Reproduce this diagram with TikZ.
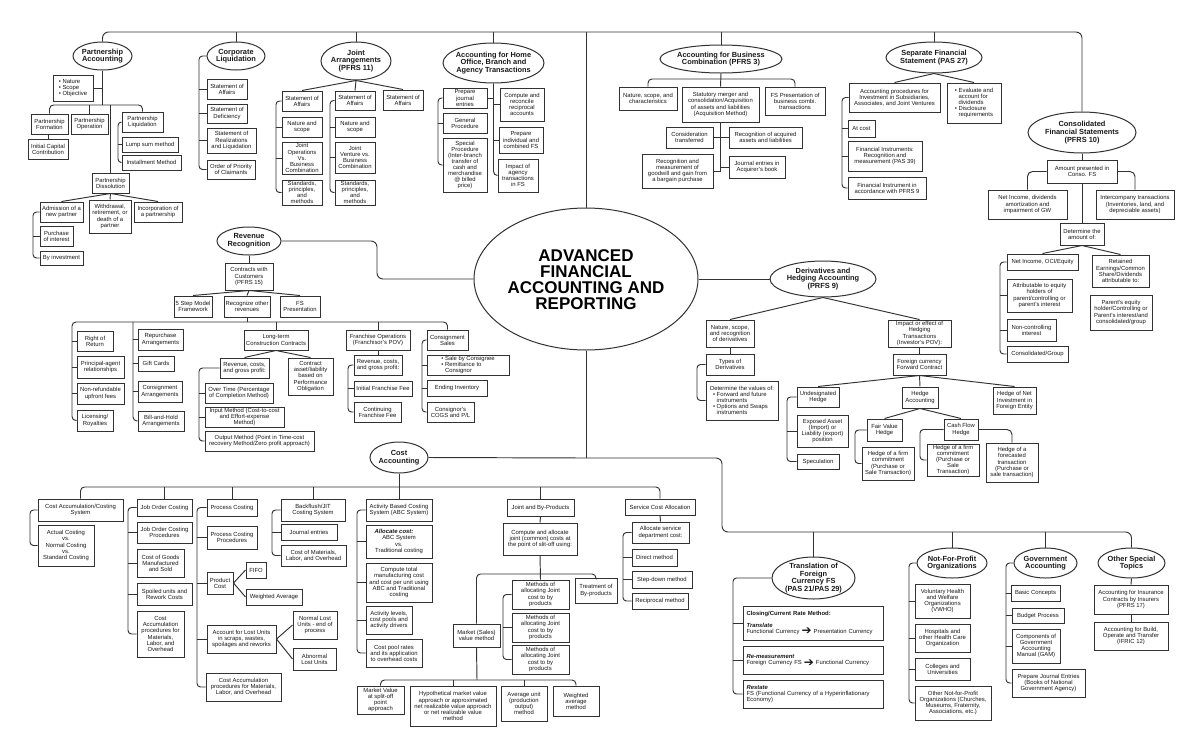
\documentclass[tikz,border=0pt]{standalone}
\usepackage{fontspec}
\setmainfont{Liberation Sans}
\newfontfamily\dejavu{DejaVu Sans}
\usetikzlibrary{shapes.geometric}
\definecolor{lc}{RGB}{50,50,50}
\newcommand\FS{\fontsize{5.9}{6.1}\selectfont}
\newcommand\FE{\fontsize{7.4}{7.6}\selectfont\bfseries}
\newcommand\ARR{\raisebox{-1.6pt}[0pt][0pt]{\dejavu\fontsize{12}{12}\selectfont ➔}}
\newcommand\BI{\hphantom{•~}}
\tikzset{
 ln/.style={draw=lc,line width=0.95pt},
 box/.style={draw=lc,line width=1pt,fill=white,inner sep=1pt,align=center,font=\FS,text=black!90},
 ell/.style={ellipse,draw=lc,line width=1pt,fill=white,inner sep=0pt},
 etxt/.style={font=\FE,align=center,inner sep=0pt,text=black!90},
}
\newcommand\BX[7][]{\node[box,minimum width={(#5)-(#3)},minimum height={(#6)-(#4)},#1] (#2) at ({((#3)+(#5))/2},{((#4)+(#6))/2}) {#7};}
\newcommand\EL[6]{\node[ell,minimum width={(#4)-(#2)},minimum height={(#5)-(#3)}] (#1) at ({((#2)+(#4))/2},{((#3)+(#5))/2}) {};\node[etxt] (#1t) at (#1.center) {#6};}
\newcommand\BRK[3]{\coordinate (bk) at (#1,0);\draw[ln,rounded corners=3.5] (#2.west) -- (#2.west -| bk) -- (#3.west -| bk) -- (#3.west);}
\newcommand\STUB[1]{\draw[ln] (#1.west) -- (#1.west -| bk);}
\begin{document}
\begin{tikzpicture}[x=1pt,y=-1pt]
\fill[white] (0,0) rectangle (1199,745);
\useasboundingbox (0,0) rectangle (1199,745);

% ---------- main
\node[ell,minimum width=224,minimum height=142] (main) at (586,279) {};
\node[font=\fontsize{17}{16}\selectfont\bfseries,align=center,inner sep=0pt] (maint) at (586,280) {ADVANCED\\FINANCIAL\\ACCOUNTING AND\\REPORTING};

% ---------- Partnership
\EL{pa}{73}{42}{132}{70}{Partnership\\Accounting}
\BX[align=left]{pnso}{53}{75}{93}{101}{• Nature\\• Scope\\• Objective}
\BX{pform}{31}{114}{68}{134}{Partnership\\Formation}
\BX{pinit}{28}{139}{68}{159}{Initial Capital\\Contribution}
\BX{poper}{71}{114}{108}{134}{Partnership\\Operation}
\BX{pliq}{122}{112}{163}{132}{Partnership\\Liquidation}
\BX{plump}{122}{137}{178}{152}{Lump sum method}
\BX{pinst}{122}{155}{181}{170}{Installment Method}
\BX{pdiss}{92}{173}{129}{193}{Partnership\\Dissolution}
\BX{padm}{40}{202}{83}{222}{Admission of a\\new partner}
\BX{pwith}{89}{200}{131}{233}{Withdrawal,\\retirement, or\\death of a\\partner}
\BX{pinc}{134}{202}{182}{222}{Incorporation of\\a partnership}
\BX{ppur}{40}{226}{73}{246}{Purchase\\of interest}
\BX{pinv}{40}{251}{83}{265}{By investment}

% ---------- Corporate Liquidation
\EL{cl}{207}{42}{265}{70}{Corporate\\Liquidation}
\BX{cl1}{207}{79}{247}{99}{Statement of\\Affairs}
\BX{cl2}{207}{104}{247}{123}{Statement of\\Deficiency}
\BX{cl3}{207}{128}{256}{153}{Statement of\\Realizations\\and Liquidation}
\BX{cl4}{207}{160}{255}{179}{Order of Priority\\of Claimants}

% ---------- Joint Arrangements
\EL{ja}{321}{42}{391}{80}{Joint\\Arrangements\\(PFRS 11)}
\BX{ja1}{282}{91}{322}{111}{Statement of\\Affairs}
\BX{ja2}{282}{117}{322}{137}{Nature and\\scope}
\BX{ja3}{282}{142}{322}{174}{Joint\\Operations\\Vs.\\Business\\Combination}
\BX{ja4}{282}{180}{322}{205}{Standards,\\principles,\\and\\methods}
\BX{jb1}{335}{91}{375}{110}{Statement of\\Affairs}
\BX{jb2}{335}{117}{375}{137}{Nature and\\scope}
\BX{jb3}{335}{142}{375}{173}{Joint\\Venture vs.\\Business\\Combination}
\BX{jb4}{335}{180}{375}{205}{Standards,\\principles,\\and\\methods}
\BX{jc}{383}{90}{423}{110}{Statement of\\Affairs}

% ---------- Home office
\EL{ho}{443}{43}{544}{83}{Accounting for Home\\Office, Branch and\\Agency Transactions}
\BX{ho1}{443}{88}{487}{108}{Prepare\\journal\\entries}
\BX{ho2}{443}{113}{487}{133}{General\\Procedure}
\BX{ho3}{443}{138}{487}{192}{Special\\Procedure\\(Inter-branch\\transfer of\\cash and\\merchandise\\@ billed\\price)}
\BX{hr1}{500}{88}{544}{121}{Compute and\\reconcile\\reciprocal\\accounts}
\BX{hr2}{499}{127}{543}{153}{Prepare\\individual and\\combined FS}
\BX{hr3}{498}{159}{538}{192}{Impact of\\agency\\transactions\\in FS}

% ---------- Business combination
\EL{abc}{660}{45}{782}{73}{Accounting for Business\\Combination (PFRS 3)}
\BX{ab1}{619}{87}{677}{110}{Nature, scope, and\\characteristics}
\BX{ab2}{682}{87}{759}{122}{Statutory merger and\\consolidation/Acquisition\\of assets and liabilities\\(Acquisition Method)}
\BX{ab3}{765}{87}{825}{115}{FS Presentation of\\business combi.\\transactions}
\BX{ab4}{666}{127}{713}{148}{Consideration\\transferred}
\BX{ab5}{729}{127}{802}{148}{Recognition of acquired\\assets and liabilities}
\BX{ab6}{642}{154}{713}{188}{Recognition and\\measurement of\\goodwill and gain from\\a bargain purchase}
\BX{ab7}{729}{156}{785}{178}{Journal entries in\\Acquirer's book}

% ---------- Separate FS
\EL{sfs}{886}{42}{982}{73}{Separate Financial\\Statement (PAS 27)}
\BX{sf1}{849}{83}{940}{112}{Accounting procedures for\\Investment in Subsidiaries,\\Associates, and Joint Ventures}
\BX[align=left]{sf2}{947}{83}{1001}{123}{• Evaluate and\\\BI account for\\\BI dividends\\• Disclosure\\\BI requirements}
\BX{sf3}{848}{120}{875}{137}{At cost}
\BX{sf4}{848}{141}{922}{171}{Financial Instruments:\\Recognition and\\measurement (PAS 39)}
\BX{sf5}{848}{177}{926}{199}{Financial Instrument in\\accordance with PFRS 9}

% ---------- Consolidated
\EL{cfs}{1028}{112}{1136}{153}{Consolidated\\Financial Statements\\(PFRS 10)}
\BX{cf1}{1047}{160}{1117}{183}{Amount presented in\\Conso. FS}
\BX{cf2}{988}{190}{1067}{219}{Net Income, dividends\\amortization and\\impairment of GW}
\BX{cf3}{1096}{190}{1174}{219}{Intercompany transactions\\(Inventories, land, and\\depreciable assets)}
\BX{cf4}{1060}{223}{1104}{245}{Determine the\\amount of:}
\BX{cf5}{1007}{254}{1078}{270}{Net Income, OCI/Equity}
\BX{cf6}{1007}{279}{1072}{312}{Attributable to equity\\holders of\\parent/controlling or\\parent's interest}
\BX{cf7}{1007}{319}{1056}{341}{Non-controlling\\interest}
\BX{cf8}{1007}{346}{1068}{362}{Consolidated/Group}
\BX{cf9}{1092}{255}{1149}{287}{Retained\\Earnings/Common\\Share/Dividends\\attributable to:}
\BX{cf10}{1090}{295}{1152}{330}{Parent's equity\\holder/Controlling or\\Parent's interest/and\\consolidated/group}

% ---------- Revenue
\EL{rr}{217}{227}{281}{255}{Revenue\\Recognition}
\BX{r0}{225}{263}{273}{290}{Contracts with\\Customers\\(PFRS 15)}
\BX{r1}{174}{296}{212}{317}{5 Step Model\\Framework}
\BX{r2}{224}{296}{270}{317}{Recognize other\\revenues}
\BX{r3}{280}{296}{320}{317}{FS\\Presentation}
\BX{rc1}{77}{331}{113}{351}{Right of\\Return}
\BX{rc2}{77}{356}{124}{378}{Principal-agent\\relationships}
\BX{rc3}{77}{383}{124}{404}{Non-refundable\\upfront fees}
\BX{rc4}{77}{410}{113}{431}{Licensing/\\Royalties}
\BX{rd1}{138}{329}{183}{350}{Repurchase\\Arrangements}
\BX{rd2}{138}{356}{174}{371}{Gift Cards}
\BX{rd3}{138}{381}{182}{402}{Consignment\\Arrangements}
\BX{rd4}{138}{411}{184}{431}{Bill-and-Hold\\Arrangements}
\BX{re0}{244}{330}{308}{350}{Long-term\\Construction Contracts}
\BX{re1}{220}{358}{269}{378}{Revenue, costs,\\and gross profit:}
\BX{re2}{288}{358}{333}{395}{Contract\\asset/liability\\based on\\Performance\\Obligation}
\BX{re3}{205}{383}{273}{403}{Over Time (Percentage\\of Completion Method)}
\BX{re4}{205}{407}{284}{427}{Input Method (Cost-to-cost\\and Effort-expense\\Method)}
\BX{re5}{205}{431}{314}{451}{Output Method (Point in Time-cost\\recovery Method/Zero profit approach)}
\BX{rf0}{346}{330}{410}{350}{Franchise Operations\\(Franchisor's POV)}
\BX{rf1}{354}{355}{402}{375}{Revenue, costs,\\and gross profit:}
\BX{rf2}{354}{381}{412}{396}{Initial Franchise Fee}
\BX{rf3}{354}{402}{401}{422}{Continuing\\Franchise Fee}
\BX{rg0}{427}{330}{468}{350}{Consignment\\Sales}
\BX[align=left]{rg1}{427}{355}{509}{375}{• Sale by Consignee\\• Remittance to\\\BI Consignor}
\BX{rg2}{427}{380}{487}{396}{Ending Inventory}
\BX{rg3}{427}{402}{474}{422}{Consignor's\\COGS and P/L}

% ---------- Derivatives
\EL{dh}{770}{261}{876}{297}{Derivatives and\\Hedging Accounting\\(PRFS 9)}
\BX{d1}{706}{320}{754}{347}{Nature, scope,\\and recognition\\of derivatives}
\BX{d2}{706}{354}{754}{375}{Types of\\Derivatives}
\BX[align=left]{d3}{706}{381}{778}{420}{Determine the values of:\\\hspace*{3pt}• Forward and future\\\hspace*{3pt}\BI instruments\\\hspace*{3pt}• Options and Swaps\\\hspace*{3pt}\BI instruments}
\BX{d4}{888}{320}{951}{347}{Impact or effect of\\Hedging\\Transactions\\(Investor's POV):}
\BX{d5}{893}{354}{946}{375}{Foreign currency\\Forward Contract}
\BX{d6}{797}{387}{839}{407}{Undesignated\\Hedge}
\BX{d7}{797}{415}{848}{447}{Exposed Asset\\(Import) or\\Liability (export)\\position}
\BX{d8}{797}{454}{839}{469}{Speculation}
\BX{d9}{902}{387}{938}{408}{Hedge\\Accounting}
\BX{d10}{993}{387}{1036}{414}{Hedge of Net\\Investment in\\Foreign Entity}
\BX{d11}{867}{419}{902}{441}{Fair Value\\Hedge}
\BX{d12}{862}{447}{914}{480}{Hedge of a firm\\commitment\\(Purchase or\\Sale Transaction)}
\BX{d13}{944}{419}{978}{440}{Cash Flow\\Hedge}
\BX{d14}{927}{444}{979}{476}{Hedge of a firm\\commitment\\(Purchase or\\Sale\\Transaction)}
\BX{d15}{986}{443}{1038}{482}{Hedge of a\\forecasted\\transaction\\(Purchase or\\sale transaction)}

% ---------- Cost accounting
\EL{ca}{370}{442}{428}{473}{Cost\\Accounting}
\BX{c1}{38}{499}{123}{521}{Cost Accumulation/Costing\\System}
\BX{c2}{38}{525}{94}{566}{Actual Costing\\vs.\\Normal Costing\\vs.\\Standard Costing}
\BX{j1}{137}{499}{192}{516}{Job Order Costing}
\BX{j2}{137}{522}{192}{543}{Job Order Costing\\Procedures}
\BX{j3}{137}{549}{184}{577}{Cost of Goods\\Manufactured\\and Sold}
\BX{j4}{137}{583}{192}{605}{Spoiled units and\\Rework Costs}
\BX{j5}{137}{611}{184}{657}{Cost\\Accumulation\\procedures for\\Materials,\\Labor, and\\Overhead}
\BX{p1}{207}{499}{257}{516}{Process Costing}
\BX{p2}{207}{526}{257}{549}{Process Costing\\Procedures}
\BX{p3}{207}{572}{233}{594}{Product\\Cost}
\BX{p4}{246}{562}{266}{578}{FIFO}
\BX{p5}{246}{589}{302}{605}{Weighted Average}
\BX{p6}{207}{625}{276}{653}{Account for Lost Units\\in scraps, wastes,\\spoilages and reworks}
\BX{p7}{293}{611}{337}{639}{Normal Lost\\Units - end of\\process}
\BX{p8}{293}{648}{336}{670}{Abnormal\\Lost Units}
\BX{p9}{206}{673}{281}{701}{Cost Accumulation\\procedures for Materials,\\Labor, and Overhead}
\BX{b1}{281}{499}{345}{521}{Backflush/JIT\\Costing System}
\BX{b2}{281}{524}{337}{540}{Journal entries}
\BX{b3}{281}{545}{346}{566}{Cost of Materials,\\Labor, and Overhead}
\BX{a1}{366}{499}{432}{521}{Activity Based Costing\\System (ABC System)}
\BX{a2}{366}{525}{432}{558}{\textbf{\textit{Allocate cost:}}\hspace*{10pt}\\ABC System\\vs.\\Traditional costing}
\BX{a3}{366}{563}{432}{602}{Compute total\\manufacturing cost\\and cost per unit using\\ABC and Traditional\\costing}
\BX{a4}{366}{606}{412}{634}{Activity levels,\\cost pools and\\activity drivers}
\BX{a5}{366}{639}{422}{667}{Cost pool rates\\and its application\\to overhead costs}
\BX{jp1}{507}{499}{574}{516}{Joint and By-Products}
\BX{jp2}{503}{523}{577}{555}{Compute and allocate\\joint (common) costs at\\the point of slit-off using:}
\BX{jp3}{512}{580}{569}{609}{Methods of\\allocating Joint\\cost to by\\products}
\BX{jp4}{512}{613}{569}{642}{Methods of\\allocating Joint\\cost to by\\products}
\BX{jp5}{512}{645}{569}{674}{Methods of\\allocating Joint\\cost to by\\products}
\BX{jp6}{575}{578}{617}{603}{Treatment of\\By-products}
\BX{jp7}{453}{624}{500}{647}{Market (Sales)\\value method}
\BX{jp8}{357}{686}{404}{714}{Market Value\\at split-off\\point\\approach}
\BX{jp9}{410}{686}{496}{726}{Hypothetical market value\\approach or approximated\\net realizable value approach\\or net realizable value\\method}
\BX{jp10}{501}{686}{547}{721}{Average unit\\(production\\output)\\method}
\BX{jp11}{553}{686}{599}{716}{Weighted\\average\\method}
\BX{s1}{625}{499}{695}{515}{Service Cost Allocation}
\BX{s2}{632}{522}{689}{543}{Allocate service\\department cost:}
\BX{s3}{632}{549}{677}{566}{Direct method}
\BX{s4}{632}{571}{692}{588}{Step-down method}
\BX{s5}{632}{593}{688}{609}{Reciprocal method}

% ---------- Translation
\EL{tr}{772}{557}{855}{599}{Translation of\\Foreign\\Currency FS\\(PAS 21/PAS 29)}
\BX[text width=133pt,align=left,inner xsep=3.5pt]{t1}{743}{606}{883}{640}{\textbf{Closing/Current Rate Method:}\\[5pt]\textbf{\textit{Translate}}\\Functional Currency \ARR{} Presentation Currency}
\BX[text width=133pt,align=left,inner xsep=3.5pt]{t2}{743}{646}{883}{674}{\textbf{\textit{Re-measurement}}\\Foreign Currency FS \ARR{} Functional Currency}
\BX[text width=133pt,align=left,inner xsep=3.5pt]{t3}{743}{680}{883}{708}{\textbf{\textit{Restate}}\\FS (Functional Currency of a Hyperinflationary\\Economy)}

% ---------- Not-for-profit
\EL{np}{917}{548}{987}{578}{Not-For-Profit\\Organizations}
\BX{n1}{915}{584}{970}{618}{Voluntary Health\\and Welfare\\Organizations\\(VWHO)}
\BX{n2}{915}{624}{970}{652}{Hospitals and\\other Health Care\\Organization}
\BX{n3}{915}{658}{970}{680}{Colleges and\\Universities}
\BX{n4}{915}{686}{991}{720}{Other Not-for-Profit\\Organizations (Churches,\\Museums, Fraternity,\\Associations, etc.)}

% ---------- Government
\EL{ga}{1014}{548}{1077}{578}{Government\\Accounting}
\BX{g1}{1011}{585}{1060}{601}{Basic Concepts}
\BX{g2}{1012}{608}{1064}{623}{Budget Process}
\BX{g3}{1012}{629}{1060}{663}{Components of\\Government\\Accounting\\Manual (GAM)}
\BX{g4}{1012}{669}{1085}{697}{Prepare Journal Entries\\(Books of National\\Government Agency)}

% ---------- Other
\EL{ost}{1098}{548}{1165}{578}{Other Special\\Topics}
\BX{o1}{1094}{585}{1168}{614}{Accounting for Insurance\\Contracts by Insurers\\(PFRS 17)}
\BX{o2}{1094}{622}{1168}{650}{Accounting for Build,\\Operate and Transfer\\(IFRIC 12)}

% ================= CONNECTORS
% top trunk
\coordinate (tc) at (586,32);
\draw[ln,rounded corners=6] (pa.north) |- (tc) -| (cfs.north);
\foreach \n in {cl,ja,ho,abc,sfs} \draw[ln] (\n.north) -- (\n.north |- tc);
\draw[ln] (tc) -- (main.north);

% partnership
\coordinate (pbar) at (102.5,105);
\draw[ln] (pa.south) -- (pbar);
\draw[ln,rounded corners=4] (pform.north) |- (pbar) -| (pliq.north);
\draw[ln] (poper.north) -- (poper.north |- pbar);
\draw[ln] (pdiss.north) -- (pdiss.north |- pbar);
\draw[ln] (pnso.east) -- (pnso.east -| pbar);
\draw[ln] (pinit.north) -- (pinit.north |- pform.south);
\BRK{118}{pliq}{pinst}\STUB{plump}
\draw[ln] (pdiss.south) -- (padm.north);
\draw[ln] (pdiss.south) -- (pwith.north);
\draw[ln] (pdiss.south) -- (pinc.north);
\BRK{33}{padm}{pinv}\STUB{ppur}

% corporate liquidation
\BRK{199}{cl}{cl4}\STUB{cl1}\STUB{cl2}\STUB{cl3}

% joint arrangements
\draw[ln] (ja.south) -- (ja1.north);
\draw[ln] (ja.south) -- (jb1.north);
\draw[ln] (ja.south) -- (jc.north);
\BRK{276}{ja1}{ja4}\STUB{ja2}\STUB{ja3}
\BRK{330}{jb1}{jb4}\STUB{jb2}\STUB{jb3}

% home office
\draw[ln,rounded corners=4] (ho.south) |- (hr3.west);
\draw[ln] (hr1.west) -- (hr1.west -| ho.south);
\draw[ln] (hr2.west) -- (hr2.west -| ho.south);
\draw[ln] (ho1.east) -- (ho1.east -| ho.south);
\BRK{438}{ho1}{ho3}\STUB{ho2}

% business combination
\coordinate (abbar) at (721,79);
\draw[ln] (abc.south) -- (ab2.north);
\draw[ln,rounded corners=4] (ab1.north) |- (abbar) -| (ab3.north);
\draw[ln] (ab2.south) -- (ab6.east -| ab2.south);
\draw[ln] (ab4.east) -- (ab4.east -| ab2.south);
\draw[ln] (ab5.west) -- (ab5.west -| ab2.south);
\draw[ln] (ab6.east) -- (ab6.east -| ab2.south);
\draw[ln] (ab7.west) -- (ab7.west -| ab2.south);

% separate FS
\draw[ln] (sfs.south) -- (sf1.north);
\draw[ln] (sfs.south) -- (sf2.north);
\BRK{842}{sf1}{sf5}\STUB{sf3}\STUB{sf4}

% consolidated
\draw[ln] (cfs.south) -- (cf1.north);
\draw[ln] (cf1.south) -- (cf4.north);
\draw[ln,rounded corners=5] (cf1.west) -| (cf2.north);
\draw[ln,rounded corners=5] (cf1.east) -| (cf3.north);
\draw[ln] (cf4.south) -- (cf5.north);
\draw[ln] (cf4.south) -- (cf9.north);
\BRK{1000}{cf5}{cf8}\STUB{cf6}\STUB{cf7}

% revenue
\coordinate (rrk) at (377,279);
\draw[ln,rounded corners=6] (rr.east) -| (rrk) -- (main.west);
\draw[ln] (rr.south) -- (r0.north);
\draw[ln] (r0.south) -- (r1.north);
\draw[ln] (r0.south) -- (r2.north);
\draw[ln] (r0.south) -- (r3.north);
\coordinate (rbar) at (247,322);
\coordinate (rb1) at (72,322);
\coordinate (rb2) at (133,322);
\draw[ln] (r2.south) -- (rbar);
\draw[ln,rounded corners=4] (rc4.west) -| (rb1) -| (rg0.north);
\draw[ln,rounded corners=4] (rd4.west) -| (rb2);
\draw[ln] (re0.north) -- (re0.north |- rbar);
\draw[ln] (rf0.north) -- (rf0.north |- rbar);
\coordinate (bk) at (72,0);\STUB{rc1}\STUB{rc2}\STUB{rc3}
\coordinate (bk) at (133,0);\STUB{rd1}\STUB{rd2}\STUB{rd3}
\draw[ln] (re0.south) -- (re1.north);
\draw[ln] (re0.south) -- (re2.north);
\BRK{199}{re1}{re5}\STUB{re3}\STUB{re4}
\draw[ln] (rf0.south) -- (rf1.north);
\BRK{348}{rf1}{rf3}\STUB{rf2}
\BRK{422}{rg0}{rg3}\STUB{rg1}\STUB{rg2}

% derivatives
\draw[ln] (main.east) -- (dh.west);
\draw[ln] (dh.south) -- (d1.north);
\draw[ln] (dh.south) -- (d4.north);
\draw[ln] (d1.south) -- (d2.north);
\BRK{697}{d2}{d3}
\draw[ln] (d4.south) -- (d5.north);
\draw[ln] (d5.south) -- (d6.north);
\draw[ln] (d5.south) -- (d9.north);
\draw[ln] (d5.south) -- (d10.north);
\BRK{787}{d6}{d8}\STUB{d7}
\draw[ln] (d9.south) -- (d11.north);
\draw[ln] (d9.south) -- (d13.north);
\BRK{855}{d11}{d12}
\BRK{920}{d13}{d14}
\draw[ln,rounded corners=5] (d13.east) -| (d15.north);

% lower trunk
\coordinate (mj) at (586,458);
\coordinate (rk1) at (722,532);
\draw[ln] (main.south) -- (mj);
\draw[ln] (ca.east) -- (mj);
\draw[ln,rounded corners=6] (mj) -| (rk1) -| (ost.north);
\draw[ln] (tr.north) -- (tr.north |- rk1);
\draw[ln] (np.north) -- (np.north |- rk1);
\draw[ln] (ga.north) -- (ga.north |- rk1);

% cost accounting
\coordinate (cbar) at (399,487);
\draw[ln] (ca.south) -- (cbar);
\draw[ln,rounded corners=4] (c1.north) |- (cbar) -| (s1.north);
\foreach \n in {j1,p1,b1,a1,jp1} \draw[ln] (\n.north) -- (\n.north |- cbar);
\BRK{30}{c1}{c2}
\BRK{128}{j1}{j5}\STUB{j2}\STUB{j3}\STUB{j4}
\BRK{197}{p1}{p9}\STUB{p2}\STUB{p3}\STUB{p6}
\draw[ln] (p3.east) -- (p4.west);
\draw[ln] (p3.east) -- (p5.west);
\draw[ln] (p6.east) -- (p7.west);
\draw[ln] (p6.east) -- (p8.west);
\BRK{272}{b1}{b3}\STUB{b2}
\BRK{357}{a1}{a5}\STUB{a2}\STUB{a3}\STUB{a4}
\draw[ln] (jp1.south) -- (jp2.north);
\coordinate (jbar) at (540,574);
\draw[ln] (jp2.south) -- (jp3.north);
\draw[ln,rounded corners=4] (jp7.north) |- (jbar) -| (jp6.north);
\BRK{503}{jp3}{jp5}\STUB{jp4}
\coordinate (mbar) at (477,680);
\draw[ln] (jp7.south) -- (mbar);
\draw[ln,rounded corners=4] (jp8.north) |- (mbar) -| (jp11.north);
\draw[ln] (jp9.north) -- (jp9.north |- mbar);
\draw[ln] (jp10.north) -- (jp10.north |- mbar);
\draw[ln] (s1.south) -- (s2.north);
\BRK{623}{s2}{s5}\STUB{s3}\STUB{s4}

% translation / NFP / government / other
\BRK{733}{tr}{t3}\STUB{t1}\STUB{t2}
\BRK{909}{np}{n4}\STUB{n1}\STUB{n2}\STUB{n3}
\BRK{1006}{ga}{g4}\STUB{g1}\STUB{g2}\STUB{g3}
\draw[ln] (ost.south) -- (o1.north);
\draw[ln] (o1.south) -- (o2.north);
\end{tikzpicture}
\end{document}
